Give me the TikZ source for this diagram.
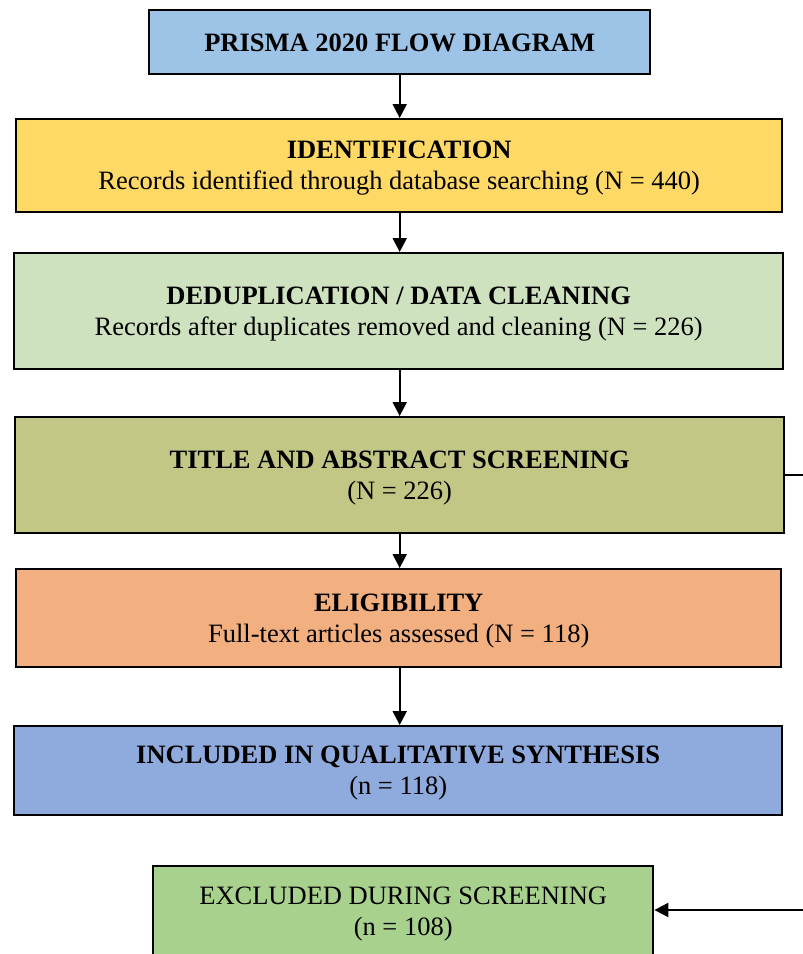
\documentclass[tikz,border=0pt]{standalone}
\usepackage{fontspec}
\setmainfont{Liberation Serif}
\usetikzlibrary{arrows.meta}
\definecolor{cblue}{HTML}{9DC3E6}
\definecolor{cyellow}{HTML}{FFD966}
\definecolor{clgreen}{HTML}{CFE2C0}
\definecolor{colive}{HTML}{C2C785}
\definecolor{corange}{HTML}{F2AF80}
\definecolor{cpblue}{HTML}{8FAADC}
\definecolor{cgreen}{HTML}{A9D18E}
\tikzset{
  box/.style={draw=black, line width=2.4pt, inner sep=0pt, anchor=north west, align=center, text depth=0pt, font=\fontsize{26.5}{31}\selectfont},
  arr/.style={line width=2.2pt, -{Triangle[length=14pt,width=14pt]}},
  ln/.style={line width=2.2pt}
}
\begin{document}
\begin{tikzpicture}[x=1pt,y=-1pt]
\useasboundingbox (0,0) rectangle (803,954);
\clip (0,0) rectangle (803,954);
\node[box, fill=cblue, minimum width=501pt, minimum height=64pt] (prisma) at (148,9) {\textbf{PRISMA 2020 FLOW DIAGRAM}};
\node[box, fill=cyellow, minimum width=766pt, minimum height=93pt] (ident) at (15,118) {\textbf{IDENTIFICATION}\\Records identified through database searching (N = 440)};
\node[box, fill=clgreen, minimum width=769pt, minimum height=116pt] (dedup) at (13,252) {\textbf{DEDUPLICATION / DATA CLEANING}\\Records after duplicates removed and cleaning (N = 226)};
\node[box, fill=colive, minimum width=769pt, minimum height=116pt] (screen) at (14,416) {\textbf{TITLE AND ABSTRACT SCREENING}\\(N = 226)};
\node[box, fill=corange, minimum width=765pt, minimum height=98pt] (elig) at (15,568) {\textbf{ELIGIBILITY}\\Full-text articles assessed (N = 118)};
\node[box, fill=cpblue, minimum width=768pt, minimum height=89pt] (incl) at (13,725) {\textbf{INCLUDED IN QUALITATIVE SYNTHESIS}\\(n = 118)};
\node[box, fill=cgreen, minimum width=500pt, minimum height=90pt] (excl) at (152,865) {EXCLUDED DURING SCREENING\\(n = 108)};
\coordinate (r1) at (810,476);
\coordinate (r2) at (810,910);
\draw[arr] (prisma.south) -- (prisma.south |- ident.north);
\draw[arr] (ident.south -| prisma.south) -- (prisma.south |- dedup.north);
\draw[arr] (dedup.south -| prisma.south) -- (prisma.south |- screen.north);
\draw[arr] (screen.south -| prisma.south) -- (prisma.south |- elig.north);
\draw[arr] (elig.south -| prisma.south) -- (prisma.south |- incl.north);
\draw[ln] (screen.east) -- (r1 |- screen.east) -- (r2);
\draw[arr] (r2) -- (excl.east |- r2);
\end{tikzpicture}
\end{document}
